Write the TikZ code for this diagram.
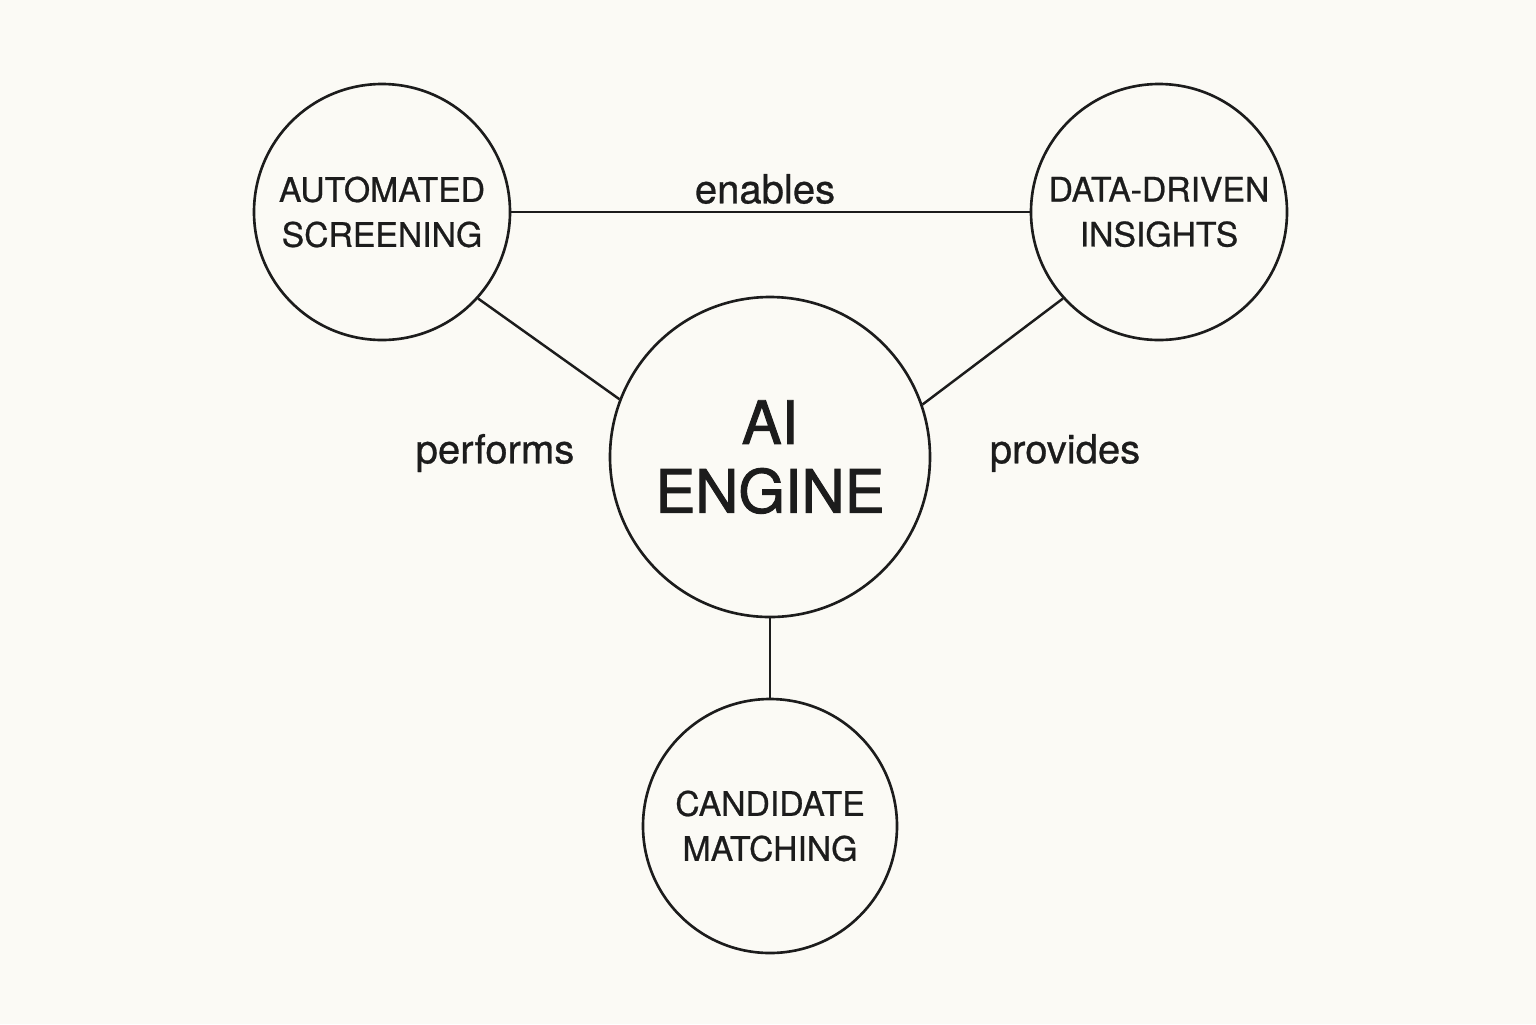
\documentclass[tikz,border=0pt]{standalone}
\usepackage{fontspec}
\setmainfont{TeX Gyre Heros}[FakeBold=0.7]
\newfontfamily\enginefont{TeX Gyre Heros}[FakeBold=1.6]
\usepackage{tikz}
\usetikzlibrary{positioning}

\definecolor{paper}{HTML}{FBFAF5}
\definecolor{ink}{HTML}{1C1C1C}

\tikzset{
	topic/.style={circle, draw=ink, line width=0.75pt, inner sep=0pt, align=center,
		text=ink, font=\fontsize{9.6}{12.8}\selectfont},
	link/.style={draw=ink, line width=0.7pt},
	verb/.style={text=ink, font=\fontsize{11.4}{13}\selectfont, inner sep=0pt},
}

\begin{document}
\begin{tikzpicture}
			\fill[paper] (0,0) rectangle (15.36,-10.24);
			\useasboundingbox (0,0) rectangle (15.36,-10.24);
			
			\node[topic, minimum size=3.2cm, font=\enginefont\fontsize{17}{19.6}\selectfont] (AI) at (7.70,-4.57) {AI\\ENGINE};
			\node[topic, minimum size=2.56cm] (AS) at (3.82,-2.12) {AUTOMATED\\SCREENING};
			\node[topic, minimum size=2.56cm] (DI) at (11.59,-2.12) {DATA-DRIVEN\\INSIGHTS};
			\node[topic, minimum size=2.54cm] (CM) at (7.70,-8.26) {CANDIDATE\\MATCHING};
			
			\draw[link] (AS) -- (DI);
			\draw[link] (AS.-42) -- (AI.159);
			\draw[link] (DI.-138) -- (AI.19);
			\draw[link] (AI) -- (CM);
			
			\node[verb] (enables) at (7.65,-1.89) {enables};
			\node[verb] (performs) at (4.95,-4.53) {performs};
			\node[verb] (provides) at (10.65,-4.53) {provides};
\end{tikzpicture}
\end{document}
